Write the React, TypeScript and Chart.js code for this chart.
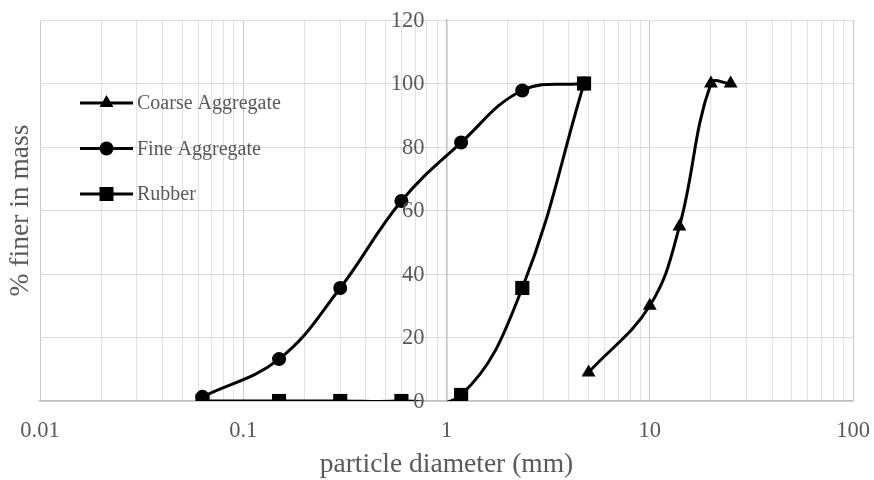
import React, { useEffect, useRef } from 'react';
import { Chart, registerables } from 'chart.js';

Chart.register(...registerables);

// ---- data ----
const fineSizes = [0.063, 0.15, 0.3, 0.6, 1.18, 2.36, 4.75];
const fineValues = [1.3, 13.2, 35.6, 63, 81.4, 97.8, 100];
const rubberSizes = [0.063, 0.15, 0.3, 0.6, 1.18, 2.36, 4.75];
const rubberValues = [0, 0, 0, 0, 1.9, 35.6, 100];
const coarseSizes = [5, 10, 14, 20, 25];
const coarseValues = [9, 30, 55, 100, 100];
const seriesNames = ['Coarse Aggregate', 'Fine Aggregate', 'Rubber'];
const seriesMarkers = ['triangle', 'circle', 'rect'];
const xTickLabels = ['0.01', '0.1', '1', '10', '100'];
const yTickValues = [0, 20, 40, 60, 80, 100, 120];
const xTitle = 'particle diameter (mm)';
const yTitle = '% finer in mass';

const SERIF = "'Liberation Serif', 'Times New Roman', serif";
const TEXT = '#595959';

const isPow10 = (v: number) => Math.abs(Math.log10(v) - Math.round(Math.log10(v))) < 1e-9;

function drawMarker(ctx: CanvasRenderingContext2D, kind: string, x: number, y: number) {
  ctx.beginPath();
  if (kind === 'triangle') {
    const r = 8;
    ctx.moveTo(x, y - r);
    ctx.lineTo(x + r * Math.sin((2 * Math.PI) / 3), y - r * Math.cos((2 * Math.PI) / 3));
    ctx.lineTo(x - r * Math.sin((2 * Math.PI) / 3), y - r * Math.cos((2 * Math.PI) / 3));
    ctx.closePath();
  } else if (kind === 'circle') {
    ctx.arc(x, y, 7, 0, Math.PI * 2);
  } else {
    ctx.rect(x - 7, y - 7, 14, 14);
  }
  ctx.fill();
}

const overlayPlugin = {
  id: 'overlay',
  afterDraw(chart: any) {
    const ctx = chart.ctx as CanvasRenderingContext2D;
    const area = chart.chartArea;
    const xs = chart.scales.x;
    const ys = chart.scales.y;
    ctx.save();
    ctx.fillStyle = TEXT;
    ctx.font = `22.5px ${SERIF}`;
    // y tick labels, right-aligned left of the axis that crosses at x = 1
    const axisX = xs.getPixelForValue(1);
    ctx.textAlign = 'right';
    ctx.textBaseline = 'middle';
    yTickValues.forEach((v) => {
      ctx.fillText(String(v), axisX - 22, ys.getPixelForValue(v) + 1);
    });
    // x tick labels
    ctx.textAlign = 'center';
    xTickLabels.forEach((lab) => {
      ctx.fillText(lab, xs.getPixelForValue(parseFloat(lab)), area.bottom + 30);
    });
    // legend
    const lx0 = 80, lx1 = 133, ly0 = 103, lgap = 45.5;
    seriesNames.forEach((name, i) => {
      const y = ly0 + i * lgap;
      ctx.strokeStyle = '#000';
      ctx.fillStyle = '#000';
      ctx.lineWidth = 3;
      ctx.beginPath();
      ctx.moveTo(lx0, y);
      ctx.lineTo(lx1, y);
      ctx.stroke();
      drawMarker(ctx, seriesMarkers[i], (lx0 + lx1) / 2, y);
      ctx.fillStyle = TEXT;
      ctx.font = `20px ${SERIF}`;
      ctx.textAlign = 'left';
      ctx.textBaseline = 'middle';
      ctx.fillText(name, 137, y + 1);
    });
    // axis titles
    ctx.fillStyle = TEXT;
    ctx.font = `27.5px ${SERIF}`;
    ctx.textAlign = 'center';
    ctx.textBaseline = 'middle';
    ctx.fillText(xTitle, (area.left + area.right) / 2, 465);
    ctx.translate(21, (area.top + area.bottom) / 2);
    ctx.rotate(-Math.PI / 2);
    ctx.fillText(yTitle, 0, 0);
    ctx.restore();
  },
};

export default function App() {
  const ref = useRef<HTMLCanvasElement | null>(null);

  useEffect(() => {
    if (!ref.current) return;
    const mk = (xs: number[], ys: number[]) => xs.map((x, i) => ({ x, y: ys[i] }));
    const common = {
      borderColor: '#000',
      backgroundColor: '#000',
      pointBackgroundColor: '#000',
      pointBorderColor: '#000',
      borderWidth: 3,
      tension: 0.4,
      fill: false,
      pointBorderWidth: 0,
    };
    const chart = new Chart(ref.current, {
      type: 'line',
      data: {
        datasets: [
          { ...common, label: seriesNames[0], data: mk(coarseSizes, coarseValues), pointStyle: 'triangle', pointRadius: 8 },
          { ...common, label: seriesNames[1], data: mk(fineSizes, fineValues), pointStyle: 'circle', pointRadius: 7 },
          { ...common, label: seriesNames[2], data: mk(rubberSizes, rubberValues), pointStyle: 'rect', pointRadius: 10 },
        ],
      },
      options: {
        animation: false,
        responsive: false,
        devicePixelRatio: 1,
        layout: { padding: { left: 40, right: 21, top: 20, bottom: 0 } },
        plugins: { legend: { display: false }, tooltip: { enabled: false } },
        elements: { line: { capBezierPoints: false } },
        scales: {
          x: {
            type: 'logarithmic',
            min: 0.01,
            max: 100,
            afterBuildTicks: (scale: any) => {
              const t: { value: number }[] = [];
              xTickLabels.forEach((lab, k) => {
                const base = parseFloat(lab);
                if (k === xTickLabels.length - 1) {
                  t.push({ value: base });
                } else {
                  for (let m = 1; m <= 9; m++) t.push({ value: +(base * m).toPrecision(6) });
                }
              });
              scale.ticks = t;
            },
            afterFit: (scale: any) => {
              scale.height = 79;
              scale.paddingLeft = 0;
              scale.paddingRight = 0;
            },
            ticks: { display: false },
            grid: {
              drawTicks: false,
              color: (c: any) => (c.tick && isPow10(c.tick.value) ? '#c8c8c8' : '#e2e2e2'),
              lineWidth: 1,
            },
            border: { color: '#c0c0c0', width: 1.5 },
          },
          y: {
            type: 'linear',
            position: { x: 1 } as any,
            min: 0,
            max: 120,
            afterBuildTicks: (scale: any) => {
              scale.ticks = yTickValues.map((value) => ({ value }));
            },
            afterFit: (scale: any) => {
              scale.paddingTop = 0;
              scale.paddingBottom = 0;
            },
            ticks: { display: false },
            grid: { drawTicks: false, color: '#dcdcdc', lineWidth: 1 },
            border: { color: '#c0c0c0', width: 1.5 },
          },
        },
      },
      plugins: [overlayPlugin],
    } as any);
    return () => chart.destroy();
  }, []);

  return (
    <div style={{ position: 'fixed', left: 0, top: 0, width: 874, height: 480, background: '#fff' }}>
      <canvas ref={ref} width={874} height={480} style={{ display: 'block', width: 874, height: 480 }} />
    </div>
  );
}
